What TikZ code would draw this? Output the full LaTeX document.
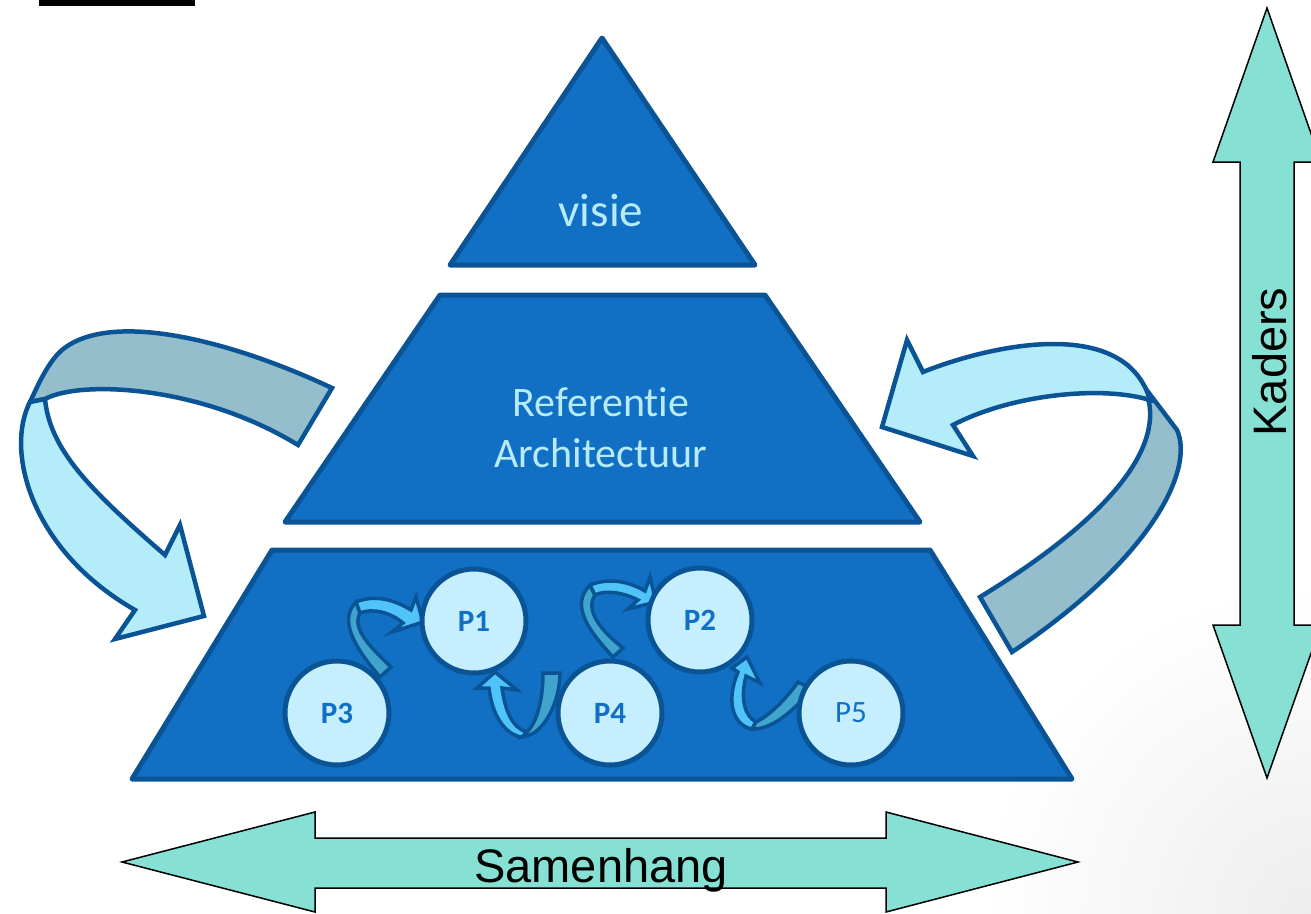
\documentclass[tikz,border=0pt]{standalone}
\usepackage{fontspec}
\setmainfont{Carlito}[Ligatures=NoCommon]
\newfontfamily\arialfont{Liberation Sans}
\definecolor{pyrblue}{RGB}{17,112,196}
\definecolor{pyredge}{RGB}{10,84,150}
\definecolor{pyrtext}{RGB}{184,235,250}
\definecolor{projfill}{RGB}{197,238,255}
\definecolor{bigl}{RGB}{180,236,250}
\definecolor{bigd}{RGB}{148,190,203}
\definecolor{smalll}{RGB}{80,196,248}
\definecolor{smalld}{RGB}{64,164,204}
\definecolor{kader}{RGB}{134,224,211}
\begin{document}
\begin{tikzpicture}[x=1pt,y=-1pt,
    layer/.style={fill=pyrblue,draw=pyredge,line width=5pt,line join=round},
    bigband/.style={draw=pyredge,line width=4.5pt,line join=miter},
    smallband/.style={draw=pyredge,line width=3.5pt,line join=miter},
    proj/.style={circle,minimum size=104pt,inner sep=0pt,fill=projfill,draw=pyredge,line width=5pt,text=pyrblue,font=\fontsize{31}{36}\selectfont\bfseries},
    pyrlabel/.style={text=pyrtext,align=center},
    dubbel/.style={fill=kader,draw=black,line width=1.5pt,line join=miter}]
    \useasboundingbox (0,0) rectangle (1311,913);
    \clip (0,0) rectangle (1311,913);
    \shade[inner color=black!7,outer color=white] (1311,913) circle (330);
    \fill[black] (39,0) rectangle (195,6);
    % piramide
    \draw[layer] (602,38) -- (755,265) -- (450,265) -- cycle;
    \node[pyrlabel,font=\fontsize{47}{56}\selectfont,anchor=base] (visie) at (601,226) {visie};
    \draw[layer] (440,295) -- (765,295) -- (920,522) -- (285,522) -- cycle;
    \node[pyrlabel,font=\fontsize{42}{51}\selectfont] (ref) at (601,428) {Referentie\\Architectuur};
    \draw[layer] (272,550) -- (930,550) -- (1072,779) -- (132,779) -- cycle;
    % grote pijl links
    \draw[bigband,fill=bigd] (332,388) .. controls (230,340) and (110,310) .. (62,350)
        .. controls (48,362) and (38,385) .. (30,402) -- (45,399)
        .. controls (80,380) and (200,385) .. (298,445) -- cycle;
    \draw[bigband,fill=bigl] (30,402) .. controls (5,450) and (30,550) .. (135,610)
        -- (115,639) -- (204,616) -- (180,525) -- (165,555)
        .. controls (90,490) and (50,450) .. (45,399) -- cycle;
    % grote pijl rechts
    \draw[bigband,fill=bigd] (1139,380) -- (1177,430) .. controls (1195,470) and (1150,560) .. (1012,652)
        -- (980,597) .. controls (1090,530) and (1160,460) .. (1149,402) -- cycle;
    \draw[bigband,fill=bigl] (882,427) -- (907,340) -- (923,372)
        .. controls (990,345) and (1125,315) .. (1150,400)
        .. controls (1100,385) and (1010,395) .. (953,425) -- (973,456) -- cycle;
    % kleine pijlen
    \draw[smallband,fill=smalld] (380,677) .. controls (355,648) and (338,620) .. (356,602)
        -- (360,613) .. controls (352,628) and (368,645) .. (391,667) -- cycle;
    \draw[smallband,fill=smalll] (356,602) .. controls (375,594) and (395,600) .. (411,610)
        -- (416,597) -- (423,622) -- (392,632) -- (403,623) .. controls (390,612) and (372,608) .. (360,613) -- cycle;
    \draw[smallband,fill=smalll] (495,672) -- (517,690) -- (502,688) .. controls (505,710) and (512,728) .. (527,732)
        -- (522,737) .. controls (505,735) and (492,715) .. (489,688) -- (477,688) -- cycle;
    \draw[smallband,fill=smalld] (522,737) .. controls (545,735) and (560,700) .. (560,673)
        -- (543,673) .. controls (543,700) and (537,722) .. (527,732) -- cycle;
    \draw[smallband,fill=smalld] (613,657) .. controls (588,630) and (570,605) .. (590,585)
        -- (595,595) .. controls (585,610) and (600,630) .. (623,648) -- cycle;
    \draw[smallband,fill=smalll] (590,585) .. controls (610,577) and (630,582) .. (645,591)
        -- (650,577) -- (656,602) -- (628,609) -- (638,600) .. controls (622,592) and (605,590) .. (595,595) -- cycle;
    \draw[smallband,fill=smalll] (747,657) -- (760,683) -- (746,676) .. controls (740,700) and (745,716) .. (756,722)
        -- (752,729) .. controls (732,725) and (726,700) .. (738,672) -- (732,668) -- cycle;
    \draw[smallband,fill=smalld] (752,729) .. controls (775,730) and (798,705) .. (812,689)
        -- (798,682) .. controls (785,700) and (770,715) .. (756,722) -- cycle;
    % projecten
    \node[proj] (p1) at (474,621) {P1};
    \node[proj] (p2) at (700,620) {P2};
    \node[proj] (p3) at (337,713) {P3};
    \node[proj] (p4) at (610,713) {P4};
    \node[proj,font=\fontsize{31}{36}\selectfont] (p5) at (851,713) {P5};
    % dubbele pijlen
    \draw[dubbel] (1267,8) -- (1321,162) -- (1294,162) -- (1294,625) -- (1321,625) -- (1267,778)
        -- (1213,625) -- (1240,625) -- (1240,162) -- (1213,162) -- cycle;
    \node[font=\arialfont\fontsize{47}{56}\selectfont,rotate=90] (kaders) at (1270,362) {Kaders};
    \draw[dubbel] (122,862) -- (315,812) -- (315,838) -- (886,838) -- (886,812) -- (1078,862)
        -- (886,912) -- (886,888) -- (315,888) -- (315,912) -- cycle;
    \node[font=\arialfont\fontsize{47}{56}\selectfont,anchor=base] (samenhang) at (601,882) {Samenhang};
\end{tikzpicture}
\end{document}
